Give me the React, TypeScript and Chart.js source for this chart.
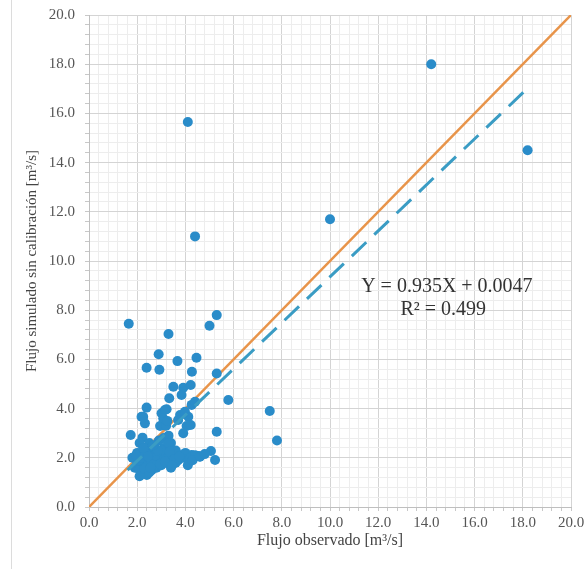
import React, { useEffect, useRef } from "react";
import { Chart, registerables } from "chart.js";

Chart.register(...registerables);

// Observed flow (x) and simulated flow without calibration (y), m³/s
const observed: number[] = [
  14.2, 18.2, 4.1, 4.4, 10.0, 1.65, 5.3, 5.0, 3.3, 7.5, 7.8, 5.78,
  2.89, 3.67, 4.46, 2.39, 2.92, 4.27, 5.3, 3.5, 3.91, 4.22, 3.84, 3.33,
  2.39, 3.22, 3.01, 2.18, 2.32, 2.95, 4.05, 3.91, 1.73, 2.22, 5.3, 5.06,
  5.23, 4.54, 4.6, 4.26, 3.78, 3.15, 3.08, 4.12, 4.22, 2.25, 3.7, 3.98,
  4.26, 4.4, 3.2, 3.3, 3.4, 3.25,
  1.9, 2.0, 2.1, 2.2, 2.3, 2.4, 2.5, 2.6, 2.7, 2.8, 2.9, 3.0, 3.1, 3.2,
  3.3, 3.4, 3.5, 3.6, 3.7, 3.8, 3.9, 4.0, 2.2, 2.4, 2.6, 2.8, 3.0, 2.0,
  2.3, 2.5, 2.7, 2.9, 3.1, 3.3, 1.8, 2.1, 2.4, 2.1, 2.3, 2.5, 2.7, 3.2,
  3.4, 3.6, 4.2, 4.4, 3.0, 2.6, 2.05, 2.15, 2.35, 2.55, 2.75, 2.95, 3.15,
  3.35, 3.55, 3.75, 4.1, 4.3, 4.6, 4.8, 1.95, 2.45, 2.85, 3.45, 2.25, 2.65,
];
const simulated: number[] = [
  18.0, 14.5, 15.65, 11.0, 11.7, 7.45, 7.8, 7.37, 7.03, 3.9, 2.7, 4.35,
  6.21, 5.93, 6.07, 5.66, 5.58, 5.5, 5.43, 4.89, 4.85, 4.96, 4.55, 4.42,
  4.04, 3.97, 3.81, 3.67, 3.4, 3.29, 3.29, 3.0, 2.93, 2.82, 3.06, 2.28,
  1.91, 2.07, 2.04, 2.11, 3.74, 3.94, 3.6, 3.67, 3.33, 3.67, 3.54, 3.87,
  4.15, 4.28, 3.3, 2.9, 2.6, 3.5,
  1.6, 1.8, 1.5, 1.9, 2.1, 1.7, 2.0, 2.3, 1.9, 2.2, 1.8, 2.0, 2.4, 2.1,
  1.9, 2.2, 2.0, 2.3, 1.9, 2.1, 2.0, 2.2, 1.4, 1.3, 1.5, 1.6, 1.7, 2.2,
  2.4, 2.6, 2.5, 2.7, 2.8, 2.6, 2.0, 2.6, 2.4, 1.25, 1.55, 1.4, 1.7, 1.8,
  1.6, 1.8, 2.0, 2.1, 2.3, 1.8, 1.9, 2.0, 2.2, 1.6, 2.1, 1.75, 1.85, 2.25,
  1.95, 2.05, 1.7, 1.9, 2.05, 2.15, 2.1, 2.05, 2.3, 1.7, 2.4, 2.5, 1.5, 1.35,
];

// Regression result and 1:1 line
const slope = 0.935;
const intercept = 0.0047;
const rSquared = 0.499;
const trendRange: number[] = [1.6, 18.3];
const identityRange: number[] = [0, 20];

const axisMin = 0;
const axisMax = 20;
const minorStep = 0.4;
const majorStep = 2;

const isMajor = (v: number) => Math.abs(v / majorStep - Math.round(v / majorStep)) < 1e-6;

export default function App() {
  const ref = useRef<HTMLCanvasElement | null>(null);

  useEffect(() => {
    if (!ref.current) return;
    const serif = "'Liberation Serif', 'DejaVu Serif', serif";
    Chart.defaults.font.family = serif;

    const annotation = {
      id: "eqText",
      afterDatasetsDraw(chart: any) {
        const { ctx, scales } = chart;
        const xs = scales.x;
        const ys = scales.y;
        ctx.save();
        ctx.fillStyle = "#333333";
        ctx.font = `20px ${serif}`;
        ctx.textAlign = "center";
        ctx.textBaseline = "middle";
        ctx.fillText(
          `Y = ${slope}X + ${intercept}`,
          xs.getPixelForValue(14.85),
          ys.getPixelForValue(8.95)
        );
        ctx.fillText(
          `R² = ${rSquared}`,
          xs.getPixelForValue(14.7),
          ys.getPixelForValue(8.0)
        );
        ctx.restore();
      },
    };

    const points = observed.map((x, i) => ({ x, y: simulated[i] }));

    const scaleCommon = (titleText: string, isY: boolean) => ({
      type: "linear" as const,
      min: axisMin,
      max: axisMax,
      afterBuildTicks(scale: any) {
        const t: any[] = [];
        const n = Math.round((axisMax - axisMin) / minorStep);
        for (let i = 0; i <= n; i++) t.push({ value: +(axisMin + i * minorStep).toFixed(4) });
        scale.ticks = t;
      },
      afterFit(scale: any) {
        if (isY) scale.width = 89;
        else scale.height = 62;
        scale.paddingLeft = 0;
        scale.paddingRight = 0;
        scale.paddingTop = 0;
        scale.paddingBottom = 0;
      },
      border: { display: true, color: "#bfbfbf", width: 1 },
      grid: {
        color: (c: any) => (c.tick && isMajor(c.tick.value) ? "#d4d4d4" : "#ededed"),
        tickLength: 4,
        tickColor: "#c8c8c8",
        drawTicks: true,
      },
      ticks: {
        autoSkip: false,
        maxRotation: 0,
        minRotation: 0,
        padding: isY ? 10 : 3,
        color: "#555555",
        font: { family: serif, size: 15 },
        callback: (v: any) => (isMajor(Number(v)) ? Number(v).toFixed(1) : ""),
      },
      title: {
        display: true,
        text: titleText,
        color: "#444444",
        font: { family: serif, size: isY ? 15 : 16 },
        padding: isY ? { top: 23, bottom: 0 } : { top: 0, bottom: 19 },
      },
    });

    const chart = new Chart(ref.current, {
      type: "scatter",
      data: {
        datasets: [
          {
            type: "line",
            label: "1:1",
            data: identityRange.map((v) => ({ x: v, y: v })),
            borderColor: "#E8944A",
            borderWidth: 2.5,
            pointRadius: 0,
            fill: false,
            order: 2,
          } as any,
          {
            type: "scatter",
            label: "Datos",
            data: points,
            backgroundColor: "#2A8CC9",
            borderColor: "#2A8CC9",
            pointRadius: 5,
            pointBorderWidth: 0,
            order: 1,
          },
          {
            type: "line",
            label: "Tendencia",
            data: trendRange.map((x) => ({ x, y: slope * x + intercept })),
            borderColor: "#3A9CC4",
            borderWidth: 3,
            borderDash: [20, 11],
            pointRadius: 0,
            fill: false,
            order: 0,
          } as any,
        ],
      },
      options: {
        animation: false,
        responsive: false,
        maintainAspectRatio: false,
        layout: { padding: { left: 0, right: 13, top: 15, bottom: 0 } },
        plugins: { legend: { display: false }, tooltip: { enabled: false } },
        scales: {
          x: scaleCommon("Flujo observado [m³/s]", false),
          y: scaleCommon("Flujo simulado sin calibración [m³/s]", true),
        },
      },
      plugins: [annotation],
    });
    return () => chart.destroy();
  }, []);

  return (
    <div style={{ position: "fixed", left: 0, top: 0, width: 584, height: 569, background: "#ffffff" }}>
      <div style={{ position: "absolute", left: 11, top: 0, width: 1, height: 569, background: "#dcdcdc" }} />
      <canvas ref={ref} width={584} height={569} style={{ position: "absolute", left: 0, top: 0 }} />
    </div>
  );
}
